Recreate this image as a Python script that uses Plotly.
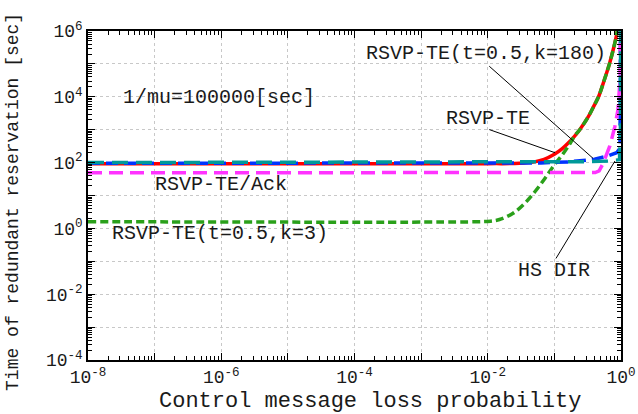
import plotly.graph_objects as go

# ---- data ----
red_p = [1e-8, 1e-2, 0.03, 0.05, 0.07, 0.1, 0.13, 0.16, 0.2, 0.24, 0.32, 0.4, 0.46, 0.56, 0.67, 0.78, 0.88, 0.93]
red_v = [92, 93, 95, 105, 125, 178, 260, 385, 630, 1000, 2400, 5700, 1.0e4, 3.2e4, 1.0e5, 3.2e5, 1.0e6, 3.2e6]

green_p = [1e-8, 0.008, 0.011, 0.015, 0.024, 0.036, 0.051, 0.072, 0.096, 0.136, 0.17, 0.2, 0.24, 0.32, 0.4, 0.46, 0.56, 0.67, 0.78, 0.88, 0.93]
green_v = [1.6, 1.6, 1.66, 1.86, 2.9, 5.8, 13, 33, 76, 190, 365, 640, 1000, 2400, 5700, 1.0e4, 3.2e4, 1.0e5, 3.2e5, 1.0e6, 3.2e6]

blue_p = [1e-8, 0.01, 0.063, 0.16, 0.25, 0.4, 0.63, 0.86, 0.95, 0.965, 0.975, 0.985]
blue_v = [95, 95, 98, 105, 112, 126, 158, 200, 260, 400, 1e4, 1e7]

magenta_p = [1e-8, 0.32, 0.41, 0.47, 0.54, 0.68, 0.81, 0.9, 0.966, 0.989]
magenta_v = [49, 49, 50, 56, 95, 320, 1260, 4000, 3.2e4, 3e6]

teal_p = [1e-8, 0.1, 0.32, 0.63, 0.86, 0.95, 0.98, 0.99]
teal_v = [100, 102, 107, 112, 120, 122, 1e3, 1e7]

x_ticks = [1e-8, 1e-7, 1e-6, 1e-5, 1e-4, 1e-3, 1e-2, 1e-1, 1]
x_ticktext = ["10<sup>-8</sup>", "", "10<sup>-6</sup>", "", "10<sup>-4</sup>", "", "10<sup>-2</sup>", "", "10<sup>0</sup>"]
y_ticks = [1e-4, 1e-3, 1e-2, 1e-1, 1, 10, 100, 1e3, 1e4, 1e5, 1e6]
y_ticktext = ["10<sup>-4</sup>", "", "10<sup>-2</sup>", "", "10<sup>0</sup>", "", "10<sup>2</sup>", "", "10<sup>4</sup>", "", "10<sup>6</sup>"]

FONT = "Liberation Mono, Courier New, monospace"
TXT = "#1a1a1a"

fig = go.Figure()

def add(p, v, color, dash, shape="linear"):
    fig.add_trace(go.Scatter(x=p, y=v, mode="lines", line=dict(color=color, dash=dash, width=3.5, shape=shape),
                             hoverinfo="skip", showlegend=False))

add(red_p, red_v, "#ff0000", "solid", "spline")
add(green_p, green_v, "#2aa01a", "8px,4px", "spline")
add(blue_p, blue_v, "#0033ff", "12px,6px")
add(magenta_p, magenta_v, "#ff33ff", "14px,7px")
add(teal_p, teal_v, "#009999", "16px,8px")

grid = dict(showgrid=True, gridcolor="#c8c8c8", gridwidth=1, griddash="3px,3px")
axis_common = dict(type="log", showline=True, linecolor="black", linewidth=1.5, mirror="allticks",
                   ticks="inside", ticklen=7, tickcolor="black", tickwidth=1, automargin=False,
                   tickfont=dict(family=FONT, size=18, color=TXT), zeroline=False,
                   minor=dict(ticks="inside", ticklen=4, tickcolor="black", dtick="D1", showgrid=False),
                   **grid)

fig.update_xaxes(range=[-8, 0], tickmode="array", tickvals=x_ticks, ticktext=x_ticktext, **axis_common)
fig.update_yaxes(range=[-4, 6], tickmode="array", tickvals=y_ticks, ticktext=y_ticktext, **axis_common)

annots = []
# leader lines (log-axis annotation coordinates)
leaders = [
    ((-0.42, 2.13), (-2.0, 4.97)),
    ((-0.99, 2.30), (-2.0, 3.02)),
    ((-0.09, 2.05), (-0.99, -0.96)),
]
for (hx, hy), (tx, ty) in leaders:
    annots.append(dict(x=hx, y=hy, xref="x", yref="y", ax=tx, ay=ty, axref="x", ayref="y",
                       text="", showarrow=True, arrowhead=0, arrowwidth=1, arrowcolor="black",
                       standoff=0, startstandoff=0))

labels = [
    ("RSVP-TE(t=0.5,k=180)", -2.03, 5.33),
    ("RSVP-TE", -2.0, 3.33),
    ("HS DIR", -1.0, -1.29),
    ("1/mu=100000[sec]", -6.04, 3.99),
    ("RSVP-TE/Ack", -6.0, 1.32),
    ("RSVP-TE(t=0.5,k=3)", -6.02, -0.17),
]
for t, lx, ly in labels:
    annots.append(dict(x=lx, y=ly, xref="x", yref="y", text=t, showarrow=False,
                       font=dict(family=FONT, size=20, color=TXT), xanchor="center", yanchor="middle"))

# axis titles
annots.append(dict(x=0.529, y=-0.125, xref="paper", yref="paper", text="Control message loss probability",
                   showarrow=False, font=dict(family=FONT, size=22, color=TXT), xanchor="center", yanchor="middle"))
annots.append(dict(x=-0.141, y=0.48, xref="paper", yref="paper", text="Time of redundant reservation [sec]",
                   showarrow=False, textangle=-90, font=dict(family=FONT, size=18, color=TXT),
                   xanchor="center", yanchor="middle"))

fig.update_layout(width=638, height=414, margin=dict(l=88, r=17, t=31, b=54),
                  plot_bgcolor="white", paper_bgcolor="white", annotations=annots, showlegend=False)

fig.write_html("out.html", config={"displayModeBar": False},
               post_script="document.body.style.margin='0';")
